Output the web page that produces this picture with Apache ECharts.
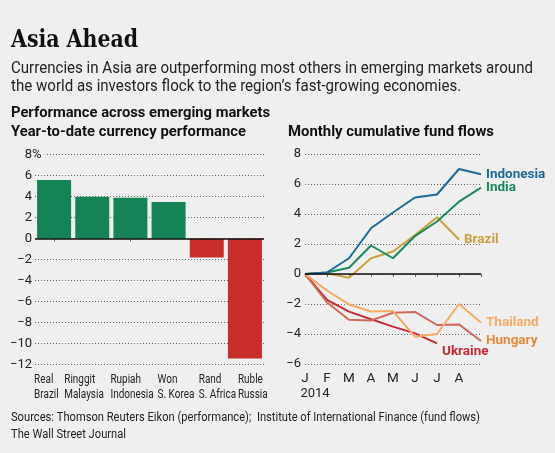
<!DOCTYPE html>
<html><head><meta charset="utf-8">
<script src="https://cdn.jsdelivr.net/npm/echarts@6/dist/echarts.min.js"></script>
<style>html,body{margin:0;padding:0;background:#efefef}#c{width:555px;height:453px}</style>
</head><body><div id="c"></div>
<script>
// ---- data ----
const currencyNames = ['Real','Ringgit','Rupiah','Won','Rand','Ruble'];
const currencyCountries = ['Brazil','Malaysia','Indonesia','S. Korea','S. Africa','Russia'];
const currencyPerf = [5.6, 4.0, 3.9, 3.5, -1.8, -11.4];
const perfAxis = {min: -12, max: 8, interval: 2};

const months = ['J','F','M','A','M','J','J','A',''];
const flowAxis = {min: -6, max: 8, interval: 2};
const indonesia = [0, 0.1, 1.05, 3.05, 4.1, 5.1, 5.3, 7.0, 6.65];
const india     = [0, 0.1, 0.42, 1.9, 1.05, 2.53, 3.5, 4.82, 5.76];
const brazil    = [0, 0.05, -0.25, 1.05, 1.5, 2.6, 3.78, 2.3];
const thailand  = [0, -1.1, -2.03, -2.5, -2.47, -4.18, -4.0, -2.0, -3.24];
const hungary   = [0, -1.9, -3.05, -3.1, -2.58, -2.53, -3.4, -3.36, -4.47];
const ukraine   = [0, -1.73, -2.51, -3.02, -3.51, -3.96, -4.62];

// ---- styles ----
const BG = '#efefef';
const SANS = 'Roboto, sans-serif';
const TXT = '#222';
const NARROW = 0.83;                       // horizontal squeeze to mimic a condensed face
const gridL = {left: 35, top: 154.7, width: 229, height: 210};
const gridR = {left: 305, top: 154, width: 176, height: 210};
const catLabelNudge = [-20, -28, -20, -11, -8, -7];   // label start relative to category centre
const dotted = {color: '#666', width: 1, type: [1, 2]};
const minus = v => String(v).replace('-', '\u2212');

const mctx = document.createElement('canvas').getContext('2d');
function fit(text, font, target) {
  mctx.font = font;
  const w = mctx.measureText(text).width;
  return w > 0 ? target / w : 1;
}

const chart = echarts.init(document.getElementById('c'), null, {renderer: 'canvas'});

function lineSeries(name, data, color, labelColor, offset) {
  return {
    type: 'line', name, data, xAxisIndex: 1, yAxisIndex: 1,
    symbol: 'none', lineStyle: {color, width: 2}, itemStyle: {color},
    endLabel: {show: true, formatter: name, color: labelColor || color,
      fontFamily: SANS, fontWeight: 'bold', fontSize: 13.5, distance: 5,
      offset: offset || [0, 0]},
    emphasis: {disabled: true}, animation: false
  };
}

chart.setOption({
  backgroundColor: BG,
  animation: false,
  textStyle: {fontFamily: SANS},
  grid: [
    Object.assign({outerBoundsMode: 'none', containLabel: false}, gridL),
    Object.assign({outerBoundsMode: 'none', containLabel: false}, gridR)
  ],
  xAxis: [
    {type: 'category', gridIndex: 0, data: currencyNames,
      axisLine: {show: false},
      axisTick: {show: true, alignWithLabel: true, length: 3, lineStyle: {color: '#666'}},
      axisLabel: {show: false}
    },
    {type: 'category', gridIndex: 1, data: months, boundaryGap: false,
      axisLine: {show: false},
      axisTick: {show: true, interval: 0, length: 3, lineStyle: {color: '#666'}},
      axisLabel: {margin: 7, fontSize: 13.5, lineHeight: 15, color: TXT, fontFamily: SANS,
        interval: 0,
        formatter: (v, i) => i === 0 ? '{m|' + v + '}\n{y|2014}' : v,
        rich: {m: {fontSize: 13.5, fontFamily: SANS, color: TXT},
               y: {fontSize: 13, fontFamily: SANS, color: TXT, padding: [0, 0, 0, 20]}}}
    }
  ],
  yAxis: [
    Object.assign({type: 'value', gridIndex: 0,
      axisLine: {show: false}, axisTick: {show: false},
      splitLine: {show: true, lineStyle: dotted},
      axisLabel: {margin: 3, fontSize: 13, color: TXT, fontFamily: SANS, formatter: minus}}, perfAxis),
    Object.assign({type: 'value', gridIndex: 1,
      axisLine: {show: false}, axisTick: {show: false},
      splitLine: {show: true, lineStyle: dotted},
      axisLabel: {margin: 4, fontSize: 13, color: TXT, fontFamily: SANS, formatter: minus}}, flowAxis)
  ],
  series: [
    {type: 'bar', xAxisIndex: 0, yAxisIndex: 0, data: currencyPerf, barWidth: 34,
      itemStyle: {color: p => p.value >= 0 ? '#148457' : '#c92d2b'},
      emphasis: {disabled: true},
      markLine: {silent: true, symbol: 'none', label: {show: false},
        lineStyle: {color: '#111', width: 1.5, type: 'solid'}, data: [{yAxis: 0}]}},
    lineSeries('Ukraine', ukraine, '#c62a35', null, [0, 8]),
    lineSeries('Hungary', hungary, '#cf6a5c', '#e8893a'),
    lineSeries('Thailand', thailand, '#f4ab66'),
    lineSeries('Brazil', brazil, '#c9a23f'),
    lineSeries('India', india, '#1a8a5a'),
    Object.assign(lineSeries('Indonesia', indonesia, '#1d6a99'), {
      markLine: {silent: true, symbol: 'none', label: {show: false},
        lineStyle: {color: '#111', width: 1.5, type: 'solid'}, data: [{yAxis: 0}]}})
  ]
});

// ---- texts ----
const titleFont = 'bold 25px "DejaVu Serif"';
const subFont = '16px ' + SANS;
const headFont = 'bold 15px ' + SANS;
const catFont = '12px ' + SANS;
const footFont = '12px ' + SANS;
const sub1 = 'Currencies in Asia are outperforming most others in emerging markets around';
const sub2 = 'the world as investors flock to the region\u2019s fast-growing economies.';
const foot1 = 'Sources: Thomson Reuters Eikon (performance);  Institute of International Finance (fund flows)';
const foot2 = 'The Wall Street Journal';

const graphics = [
  {type: 'text', x: 11, y: 28, z: 100, scaleX: fit('Asia Ahead', titleFont, 127),
    style: {text: 'Asia Ahead', font: titleFont, fill: '#111', verticalAlign: 'top'}},
  {type: 'text', x: 11, y: 60, z: 100, scaleX: fit(sub1, subFont, 522),
    style: {text: sub1 + '\n' + sub2, font: subFont, lineHeight: 18, fill: '#222', verticalAlign: 'top'}},
  {type: 'text', x: 11, y: 106, z: 100, scaleX: fit('Performance across emerging markets', headFont, 259),
    style: {text: 'Performance across emerging markets', font: headFont, fill: '#111', verticalAlign: 'top'}},
  {type: 'text', x: 11, y: 125, z: 100, scaleX: fit('Year-to-date currency performance', headFont, 235),
    style: {text: 'Year-to-date currency performance', font: headFont, fill: '#111', verticalAlign: 'top'}},
  {type: 'text', x: 288, y: 125, z: 100, scaleX: fit('Monthly cumulative fund flows', headFont, 206),
    style: {text: 'Monthly cumulative fund flows', font: headFont, fill: '#111', verticalAlign: 'top'}},
  {type: 'text', x: gridL.left - 3, y: gridL.top, z: 100,
    style: {text: '%', font: '13px ' + SANS, fill: TXT, verticalAlign: 'middle', align: 'left',
      backgroundColor: BG, padding: [0, 3, 0, 0]}},
  {type: 'text', x: 11, y: 409, z: 100, scaleX: fit(foot1, footFont, 469),
    style: {text: foot1 + '\n' + foot2, font: footFont, lineHeight: 17, fill: '#222', verticalAlign: 'top'}}
];

// category labels under the bars, anchored on the category axis positions
currencyNames.forEach((name, i) => {
  const p = chart.convertToPixel({xAxisIndex: 0, yAxisIndex: 0}, [i, perfAxis.min]);
  graphics.push({type: 'text', x: p[0] + catLabelNudge[i], y: p[1] + 8, z: 100, scaleX: NARROW,
    style: {text: name + '\n' + currencyCountries[i], font: catFont, lineHeight: 15,
      fill: TXT, verticalAlign: 'top', align: 'left'}});
});

chart.setOption({graphic: graphics});
</script></body></html>
